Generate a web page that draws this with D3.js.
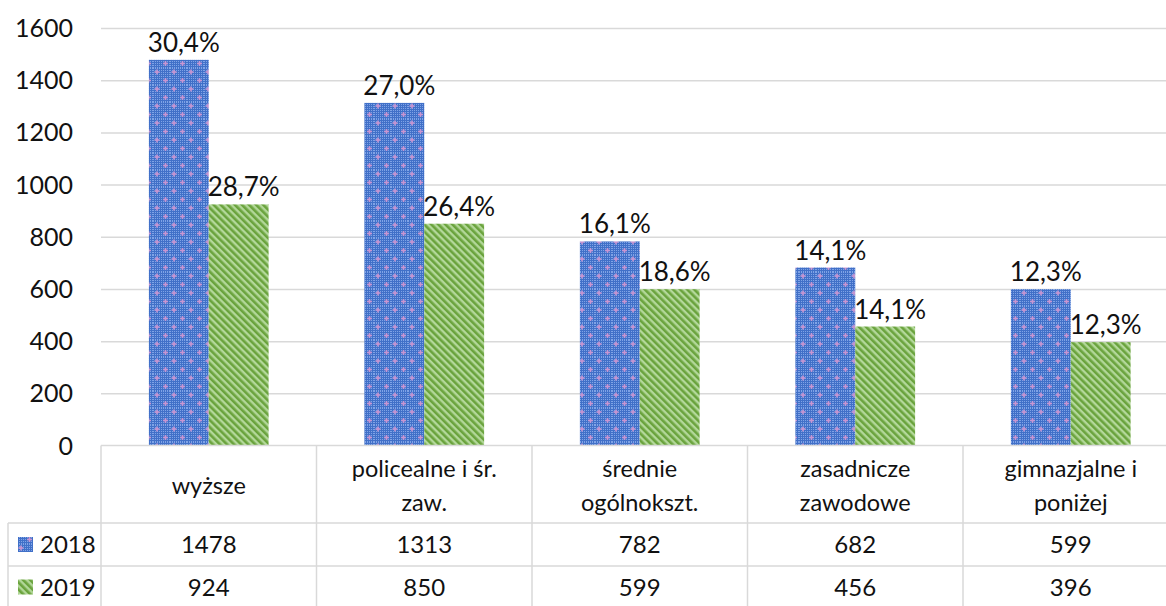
<!DOCTYPE html>
<html>
<head>
<meta charset="utf-8">
<script src="https://cdn.jsdelivr.net/npm/d3@7"></script>
<style>
  body { margin: 0; background: #fff; }
  svg { display: block; font-family: Lato, 'Open Sans', sans-serif; }
</style>
</head>
<body>
<div id="chart"></div>
<script>
// data
const categories = ['wyższe', 'policealne i śr. zaw.', 'średnie ogólnokszt.', 'zasadnicze zawodowe', 'gimnazjalne i poniżej']
const categoryLines = [['wyższe'], ['policealne i śr.', 'zaw.'], ['średnie', 'ogólnokszt.'], ['zasadnicze', 'zawodowe'], ['gimnazjalne i', 'poniżej']]
const years = ['2018', '2019']
const values2018 = [1478, 1313, 782, 682, 599]
const values2019 = [924, 850, 599, 456, 396]
const pct2018 = ['30,4%', '27,0%', '16,1%', '14,1%', '12,3%']
const pct2019 = ['28,7%', '26,4%', '18,6%', '14,1%', '12,3%']
const yTicks = [0, 200, 400, 600, 800, 1000, 1200, 1400, 1600]

const WIDTH = 1166
const HEIGHT = 606
const PLOT_LEFT = 101
const COL_WIDTH = 215.5
const PLOT_RIGHT = PLOT_LEFT + COL_WIDTH * categories.length
const Y_TOP = 28
const Y_ZERO = 445.5
const ROW1 = 523
const ROW2 = 566
const ROW_END = 610
const GRID_COLOR = '#d9d9d9'

const series = [
  { year: years[0], values: values2018, pct: pct2018, fill: 'url(#blueFill)' },
  { year: years[1], values: values2019, pct: pct2019, fill: 'url(#greenFill)' }
]

const svg = d3.select('#chart').append('svg')
  .attr('width', WIDTH)
  .attr('height', HEIGHT)

// patterns
const defs = svg.append('defs')
const dots = defs.append('pattern')
  .attr('id', 'dots').attr('patternUnits', 'userSpaceOnUse')
  .attr('width', 2).attr('height', 2)
dots.append('rect').attr('width', 2).attr('height', 2).attr('fill', '#4170c8')
dots.append('rect').attr('width', 1).attr('height', 1).attr('fill', '#7fa3e6')

const blue = defs.append('pattern')
  .attr('id', 'blueFill').attr('patternUnits', 'userSpaceOnUse')
  .attr('width', 17).attr('height', 17)
blue.append('rect').attr('width', 17).attr('height', 17).attr('fill', 'url(#dots)')
;[[4, 4], [12.5, 12.5]].forEach(([cx, cy]) => {
  blue.append('rect').attr('x', cx - 2.5).attr('y', cy - 0.8).attr('width', 5).attr('height', 1.6).attr('fill', '#c896d2')
  blue.append('rect').attr('x', cx - 0.8).attr('y', cy - 2.5).attr('width', 1.6).attr('height', 5).attr('fill', '#c896d2')
})

const green = defs.append('pattern')
  .attr('id', 'greenFill').attr('patternUnits', 'userSpaceOnUse')
  .attr('width', 5).attr('height', 5)
  .attr('patternTransform', 'rotate(-45)')
green.append('rect').attr('width', 5).attr('height', 5).attr('fill', '#b3d89a')
green.append('rect').attr('width', 2.6).attr('height', 5).attr('fill', '#6aa33d')

// scales
const x0 = d3.scaleBand()
  .domain(categories)
  .range([PLOT_LEFT, PLOT_RIGHT])
  .padding(0)

const x1 = d3.scaleBand()
  .domain(years)
  .range([0, x0.bandwidth()])
  .paddingInner(0)
  .paddingOuter(0.8)

const y = d3.scaleLinear()
  .domain([0, 1600])
  .range([Y_ZERO, Y_TOP])

// gridlines
svg.append('g')
  .attr('transform', 'translate(' + PLOT_LEFT + ',0)')
  .attr('color', GRID_COLOR)
  .attr('stroke-width', 1.5)
  .call(d3.axisLeft(y).tickValues(yTicks.slice(1)).tickSize(-(PLOT_RIGHT - PLOT_LEFT)).tickFormat(''))
  .call(g => g.select('.domain').remove())

// y axis labels
svg.append('g')
  .selectAll('text')
  .data(yTicks)
  .enter()
  .append('text')
  .attr('x', 73)
  .attr('y', d => y(d))
  .attr('dy', '0.36em')
  .attr('text-anchor', 'end')
  .attr('font-size', 25)
  .attr('fill', '#111')
  .text(d => d)

// bars
series.forEach(s => {
  const g = svg.append('g')
  g.selectAll('rect')
    .data(categories)
    .enter()
    .append('rect')
    .attr('x', (c) => x0(c) + x1(s.year))
    .attr('y', (c, i) => y(s.values[i]))
    .attr('width', x1.bandwidth())
    .attr('height', (c, i) => y(0) - y(s.values[i]))
    .attr('fill', s.fill)

  g.selectAll('text')
    .data(categories)
    .enter()
    .append('text')
    .attr('x', (c) => x0(c) + x1(s.year) + x1.bandwidth() / 2 + 5)
    .attr('y', (c, i) => y(s.values[i]) - 8)
    .attr('text-anchor', 'middle')
    .attr('font-size', 26)
    .attr('fill', '#111')
    .text((c, i) => s.pct[i])
})

// data table
const table = svg.append('g')
  .attr('stroke', GRID_COLOR)
  .attr('stroke-width', 1.5)

table.append('line')
  .attr('x1', PLOT_LEFT).attr('x2', PLOT_RIGHT)
  .attr('y1', Y_ZERO).attr('y2', Y_ZERO)
;[ROW1, ROW2].forEach(r => {
  table.append('line')
    .attr('x1', 8).attr('x2', PLOT_RIGHT)
    .attr('y1', r).attr('y2', r)
})
table.append('line')
  .attr('x1', 8).attr('x2', 8)
  .attr('y1', ROW1).attr('y2', ROW_END)
d3.range(categories.length + 1).forEach(i => {
  const xPos = PLOT_LEFT + i * x0.step()
  table.append('line')
    .attr('x1', xPos).attr('x2', xPos)
    .attr('y1', Y_ZERO).attr('y2', ROW_END)
})

// category header
categories.forEach((c, i) => {
  const lines = categoryLines[i]
  const cx = x0(c) + x0.bandwidth() / 2
  lines.forEach((l, j) => {
    svg.append('text')
      .attr('x', cx)
      .attr('y', 486 + (j - (lines.length - 1) / 2) * 34)
      .attr('dy', '0.36em')
      .attr('text-anchor', 'middle')
      .attr('font-size', 23.5)
      .attr('fill', '#111')
      .text(l)
  })
})

// value rows with legend keys
series.forEach((s, k) => {
  const rowMid = k === 0 ? (ROW1 + ROW2) / 2 : (ROW2 + 608) / 2
  svg.append('rect')
    .attr('x', 18)
    .attr('y', rowMid - 7.5)
    .attr('width', 15)
    .attr('height', 15)
    .attr('fill', s.fill)
  svg.append('text')
    .attr('x', 40)
    .attr('y', rowMid)
    .attr('dy', '0.36em')
    .attr('font-size', 24)
    .attr('fill', '#111')
    .text(s.year)
  svg.append('g')
    .selectAll('text')
    .data(categories)
    .enter()
    .append('text')
    .attr('x', c => x0(c) + x0.bandwidth() / 2)
    .attr('y', rowMid)
    .attr('dy', '0.36em')
    .attr('text-anchor', 'middle')
    .attr('font-size', 24)
    .attr('fill', '#111')
    .text((c, i) => s.values[i])
})
</script>
</body>
</html>
